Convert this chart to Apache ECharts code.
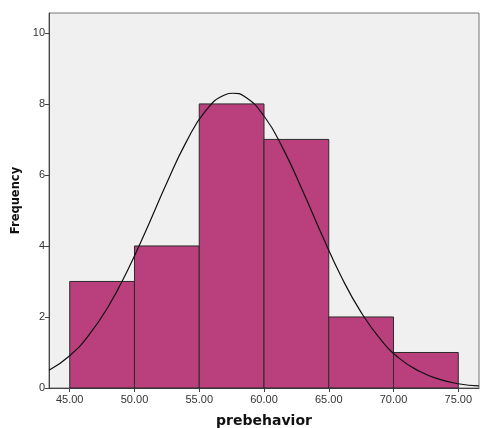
<!DOCTYPE html>
<html>
<head>
<meta charset="utf-8">
<script src="https://cdn.jsdelivr.net/npm/echarts@6/dist/echarts.min.js"></script>
<style>
  html, body { margin: 0; padding: 0; background: #fff; }
  #chart { width: 480px; height: 428px; }
</style>
</head>
<body>
<div id="chart"></div>
<script>
// histogram bins: [start, end, frequency]
var aBinStart = [45, 50, 55, 60, 65, 70];
var aBinEnd = [50, 55, 60, 65, 70, 75];
var aFreq = [3, 4, 8, 7, 2, 1];

// normal curve, points
var aCurveX = [43.4, 45, 46.5, 48, 49.5, 51, 52.5, 54, 55.5, 57, 57.6, 58.5, 60, 61.5, 63, 64.5, 66, 67.5, 69, 70.5, 72, 73.5, 75, 76.6];
var aCurveY = [0.50, 0.91, 1.50, 2.31, 3.34, 4.53, 5.78, 6.93, 7.81, 8.26, 8.30, 8.21, 7.66, 6.72, 5.54, 4.29, 3.11, 2.13, 1.37, 0.82, 0.47, 0.25, 0.12, 0.06];

var aXTicks = [45, 50, 55, 60, 65, 70, 75];
var aYTicks = [0, 2, 4, 6, 8, 10];

var aBars = [];
for (var i = 0; i < aFreq.length; i++) {
    aBars.push([aBinStart[i], aBinEnd[i], aFreq[i]]);
}
var aCurve = [];
for (var j = 0; j < aCurveX.length; j++) {
    aCurve.push([aCurveX[j], aCurveY[j]]);
}

function renderBar(params, api) {
    var p0 = api.coord([api.value(0), api.value(2)]);
    var p1 = api.coord([api.value(1), 0]);
    return {
        type: 'rect',
        shape: {x: p0[0], y: p0[1], width: p1[0] - p0[0], height: p1[1] - p0[1]},
        style: {fill: '#BA3F7D', stroke: '#2b2b2b', lineWidth: 1}
    };
}

var myChart = echarts.init(document.getElementById('chart'));
var jOption = {
    animation: false,
    grid: {
        left: 49, right: 1, top: 13, bottom: 40,
        outerBoundsMode: 'none',
        containLabel: false,
        show: true,
        backgroundColor: '#F0F0F0',
        borderColor: '#777',
        borderWidth: 1
    },
    xAxis: {
        type: 'value',
        min: 43.4,
        max: 76.6,
        name: 'prebehavior',
        nameLocation: 'middle',
        nameGap: 26,
        nameTextStyle: {fontFamily: 'DejaVu Sans', fontWeight: 'bold', fontSize: 14, color: '#111'},
        splitLine: {show: false},
        axisLine: {lineStyle: {color: '#444'}},
        axisTick: {show: true, length: 4, customValues: aXTicks, lineStyle: {color: '#444'}},
        axisLabel: {
            customValues: aXTicks,
            fontFamily: 'Liberation Sans', fontSize: 11, color: '#333', margin: 6,
            formatter: function (v) { return v.toFixed(2); }
        }
    },
    yAxis: {
        type: 'value',
        min: 0,
        max: 10.56,
        name: 'Frequency',
        nameLocation: 'middle',
        nameGap: 25,
        nameTextStyle: {fontFamily: 'DejaVu Sans', fontWeight: 'bold', fontSize: 11.5, color: '#111'},
        splitLine: {show: false},
        axisLine: {show: true, lineStyle: {color: '#444'}},
        axisTick: {show: true, length: 4, customValues: aYTicks, lineStyle: {color: '#444'}},
        axisLabel: {
            customValues: aYTicks,
            fontFamily: 'Liberation Sans', fontSize: 11, color: '#333', margin: 4
        }
    },
    series: [
        {
            type: 'custom',
            renderItem: renderBar,
            encode: {x: [0, 1], y: 2},
            data: aBars,
            z: 2
        },
        {
            type: 'line',
            data: aCurve,
            smooth: true,
            showSymbol: false,
            lineStyle: {color: '#111', width: 1.2},
            z: 3
        }
    ]
};
myChart.setOption(jOption);
</script>
</body>
</html>
